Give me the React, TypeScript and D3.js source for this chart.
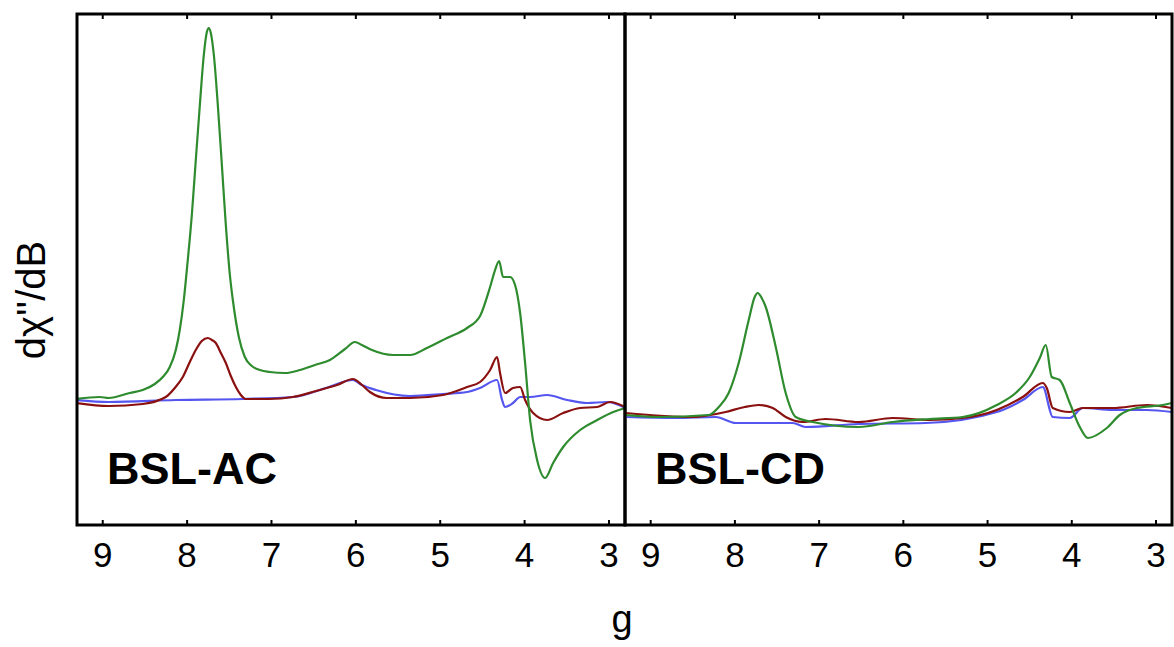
import React from "react";
import * as d3 from "d3";

type Pt = [number, number];

// g-value ticks
const gTicks = [9, 8, 7, 6, 5, 4, 3];
const panelLabels = ["BSL-AC", "BSL-CD"];
const seriesColors = { blue: "#5555f0", red: "#8b1010", green: "#2e8b2e" };

// BSL-AC panel: [g, dχ''/dB (arb. units)]
const acGreen: Pt[] = [
  [9.308, 0.1], [9.036, 0.3], [8.929, 0.2], [8.68, 0.7], [8.526, 1.0], [8.383, 1.6], [8.288, 2.3],
  [8.205, 3.3], [8.134, 5.0], [8.087, 7.0], [8.039, 10.0], [7.992, 14], [7.944, 18.5], [7.897, 24],
  [7.849, 29.5], [7.802, 34.5], [7.766, 36.8], [7.743, 37.2], [7.719, 36.7], [7.683, 34.5],
  [7.636, 29.5], [7.588, 23.5], [7.541, 17.5], [7.493, 12.5], [7.458, 10.0], [7.387, 6.3],
  [7.316, 4.3], [7.233, 3.4], [7.138, 3.0], [7.019, 2.8], [6.841, 2.7], [6.663, 3.0], [6.485, 3.5],
  [6.307, 4.0], [6.129, 5.1], [6.011, 5.8], [5.928, 5.5], [5.809, 5.0], [5.56, 4.5], [5.358, 4.5],
  [5.157, 5.2], [4.919, 6.2], [4.682, 7.2], [4.528, 8.4], [4.409, 11.3], [4.35, 13.0], [4.302, 13.9],
  [4.255, 12.3], [4.172, 12.3], [4.113, 11.5], [4.053, 8.7], [3.994, 3.7], [3.935, -2.0],
  [3.852, -6.0], [3.757, -7.8], [3.662, -6.3], [3.543, -4.7], [3.342, -3.0], [3.14, -2.0],
  [2.95, -1.2], [2.808, -0.8],
];
const acRed: Pt[] = [
  [9.308, -0.3], [8.929, -0.6], [8.526, -0.4], [8.253, 0.3], [8.146, 1.2], [8.051, 2.3], [7.968, 3.8],
  [7.897, 5.0], [7.826, 5.9], [7.754, 6.2], [7.707, 6.0], [7.66, 5.7], [7.6, 4.7], [7.541, 3.7],
  [7.482, 2.4], [7.422, 1.3], [7.363, 0.5], [7.304, 0.1], [7.031, 0.1], [6.746, 0.3], [6.473, 0.9],
  [6.224, 1.5], [6.034, 2.1], [5.928, 1.5], [5.833, 0.8], [5.631, 0.2], [5.358, 0.2], [4.967, 0.5],
  [4.682, 1.3], [4.528, 1.8], [4.409, 3.0], [4.326, 4.3], [4.291, 2.7], [4.231, 0.7], [4.137, 1.2],
  [4.053, 1.3], [3.994, 0.0], [3.899, -1.3], [3.733, -2.0], [3.543, -1.3], [3.342, -0.8],
  [3.14, -0.7], [2.986, -0.2], [2.808, -0.7],
];
const acBlue: Pt[] = [
  [9.308, 0], [8.929, -0.2], [8.134, 0], [7.339, 0.1], [6.746, 0.3], [6.319, 1.3], [6.034, 2.0],
  [5.928, 1.5], [5.762, 1.0], [5.358, 0.4], [4.967, 0.6], [4.682, 0.8], [4.528, 1.2], [4.326, 2.0],
  [4.267, 0], [4.231, -0.7], [4.137, -0.3], [4.053, 0.3], [3.935, 0.3], [3.733, 0.5], [3.496, 0],
  [3.259, -0.3], [3.021, -0.2], [2.808, -0.8],
];

// BSL-CD panel
const cdGreen: Pt[] = [
  [9.297, -1.5], [8.905, -1.7], [8.311, -1.5], [8.192, -0.7], [8.074, 0.7], [7.955, 3.7],
  [7.836, 8.0], [7.765, 10.3], [7.729, 10.7], [7.682, 10.2], [7.634, 9.3], [7.515, 5.3],
  [7.397, 0.7], [7.278, -1.7], [7.076, -2.2], [6.53, -2.7], [6.126, -2.2], [5.686, -1.9],
  [5.295, -1.7], [4.891, -0.5], [4.653, 0.8], [4.499, 2.3], [4.38, 4.2], [4.309, 5.5],
  [4.238, 2.3], [4.143, 2.0], [4.024, -0.3], [3.905, -2.7], [3.81, -3.8], [3.584, -2.8],
  [3.43, -1.5], [3.228, -0.8], [2.919, -0.5], [2.812, -0.3],
];
const cdRed: Pt[] = [
  [9.297, -1.3], [8.501, -1.7], [8.109, -1.2], [7.884, -0.7], [7.717, -0.5], [7.551, -0.8],
  [7.397, -1.7], [7.195, -2.2], [6.922, -1.9], [6.53, -2.2], [6.126, -1.8], [5.686, -2.0],
  [5.295, -1.8], [4.891, -1.0], [4.582, 0.3], [4.344, 1.7], [4.297, 1.2], [4.226, -0.8],
  [4.024, -1.2], [3.869, -0.8], [3.513, -0.8], [3.109, -0.5], [2.812, -0.8],
];
const cdBlue: Pt[] = [
  [9.297, -1.7], [8.703, -1.8], [8.228, -1.7], [7.99, -2.3], [7.717, -2.3], [7.314, -2.3],
  [7.159, -2.7], [6.53, -2.4], [5.734, -2.3], [4.891, -1.2], [4.582, 0], [4.344, 1.3],
  [4.226, -1.7], [4.024, -1.8], [3.869, -0.8], [3.513, -1.0], [3.109, -1.0], [2.812, -1.2],
];

const W = 1174;
const H = 647;
const top = 14;
const bottom = 525;
const panels = [
  { x0: 77, x1: 625, label: panelLabels[0], series: [acBlue, acRed, acGreen] },
  { x0: 625, x1: 1172, label: panelLabels[1], series: [cdBlue, cdRed, cdGreen] },
];
const colors = [seriesColors.blue, seriesColors.red, seriesColors.green];
const gDomain: [number, number] = [9.305, 2.81];
const yDomain: [number, number] = [-12.5, 38.6];

export default function App() {
  const y = d3.scaleLinear().domain(yDomain).range([bottom, top]);
  const font = "'Liberation Sans', Arial, sans-serif";
  return (
    <svg
      width={W}
      height={H}
      style={{ position: "absolute", left: 0, top: 0, background: "#fff" }}
    >
      <defs>
        {panels.map((p, i) => (
          <clipPath id={`clip${i}`} key={i}>
            <rect x={p.x0} y={top} width={p.x1 - p.x0} height={bottom - top} />
          </clipPath>
        ))}
      </defs>
      {panels.map((p, i) => {
        const x = d3.scaleLinear().domain(gDomain).range([p.x0, p.x1]);
        const line = d3
          .line<Pt>()
          .x((d) => x(d[0]))
          .y((d) => y(d[1]))
          .curve(d3.curveMonotoneX);
        return (
          <g key={i}>
            <g clipPath={`url(#clip${i})`}>
              {p.series.map((s, k) => (
                <path
                  key={k}
                  d={line(s) || ""}
                  fill="none"
                  stroke={colors[k]}
                  strokeWidth={2.2}
                  strokeLinejoin="round"
                />
              ))}
            </g>
            {gTicks.map((t) => (
              <g key={t}>
                <line x1={x(t)} x2={x(t)} y1={bottom} y2={bottom - 5} stroke="#000" strokeWidth={2} />
                <line x1={x(t)} x2={x(t)} y1={top} y2={top + 5} stroke="#000" strokeWidth={2} />
                <text
                  x={x(t)}
                  y={567}
                  textAnchor="middle"
                  fontFamily={font}
                  fontSize={35}
                  fill="#000"
                >
                  {t}
                </text>
              </g>
            ))}
            <rect
              x={p.x0}
              y={top}
              width={p.x1 - p.x0}
              height={bottom - top}
              fill="none"
              stroke="#000"
              strokeWidth={3}
            />
            <text
              x={p.x0 + 30}
              y={484}
              fontFamily={font}
              fontWeight="bold"
              fontSize={45}
              fill="#000"
            >
              {p.label}
            </text>
          </g>
        );
      })}
      <text
        x={622}
        y={632}
        textAnchor="middle"
        fontFamily={font}
        fontSize={38}
        fill="#000"
      >
        g
      </text>
      <text
        transform="translate(45,300) rotate(-90)"
        textAnchor="middle"
        fontFamily={font}
        fontSize={40}
        fill="#000"
      >
        dχ''/dB
      </text>
    </svg>
  );
}
